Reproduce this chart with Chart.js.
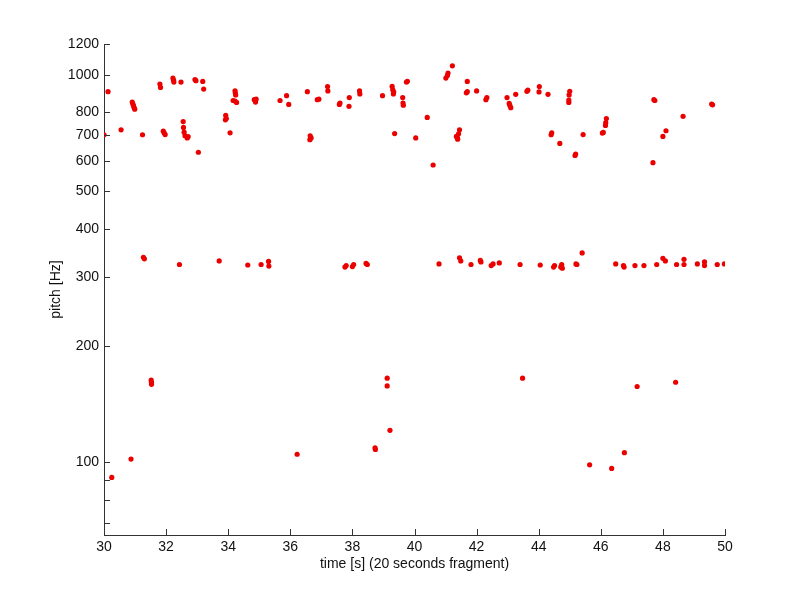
<!DOCTYPE html>
<html>
<head>
<meta charset="utf-8">
<script src="https://cdn.jsdelivr.net/npm/chart.js@4.4.1/dist/chart.umd.min.js"></script>
<style>
  html, body { margin: 0; padding: 0; background: #fff; }
  #wrap { width: 800px; height: 600px; }
</style>
</head>
<body>
<div id="wrap"><canvas id="myChart" width="800" height="600"></canvas></div>
<script>
// time [s] and pitch [Hz]
const times = [
  30.00, 30.13, 30.25, 30.55, 30.87, 30.91, 30.93, 30.95, 30.97, 30.99,
  31.24, 31.27, 31.30, 31.52, 31.53, 31.53, 31.80, 31.82, 31.91, 31.94,
  31.97, 32.22, 32.24, 32.25, 32.43, 32.48, 32.55, 32.56, 32.58, 32.61,
  32.68, 32.71, 32.93, 32.96, 33.04, 33.18, 33.21, 33.71, 33.92, 33.94,
  33.91, 34.06, 34.22, 34.23, 34.24, 34.16, 34.27, 34.22, 34.63, 34.87,
  34.90, 34.88, 34.84, 35.06, 35.30, 35.31, 35.67, 35.88, 35.95, 36.22,
  36.55, 36.64, 36.67, 36.63, 36.87, 36.92, 37.20, 37.21, 37.58, 37.60,
  37.76, 37.80, 37.90, 37.89, 38.00, 38.04, 38.23, 38.24, 38.44, 38.48,
  38.73, 38.74, 38.97, 39.12, 39.12, 39.21, 39.28, 39.30, 39.32, 39.33,
  39.36, 39.62, 39.63, 39.64, 39.74, 39.77, 40.04, 40.41, 40.60, 40.79,
  41.01, 41.06, 41.08, 41.22, 41.35, 41.39, 41.42, 41.45, 41.38, 41.45,
  41.49, 41.70, 41.67, 41.70, 41.82, 42.00, 42.12, 42.14, 42.30, 42.33,
  42.47, 42.53, 42.73, 42.98, 43.05, 43.07, 43.10, 43.26, 43.40, 43.48,
  43.62, 43.65, 44.02, 44.01, 44.05, 44.30, 44.42, 44.40, 44.48, 44.51,
  44.68, 44.71, 44.74, 44.76, 45.00, 44.98, 44.97, 44.97, 45.17, 45.19,
  45.20, 45.23, 45.40, 45.43, 45.64, 46.05, 46.08, 46.18, 46.16, 46.15,
  46.35, 46.48, 46.73, 46.75, 46.76, 47.10, 47.17, 47.39, 47.68, 47.71,
  47.74, 47.80, 48.00, 48.08, 48.00, 48.10, 48.41, 48.44, 48.65, 48.68,
  48.68, 49.11, 49.34, 49.34, 49.57, 49.60, 49.75, 49.98
];
const pitches = [
  700, 904, 91.5, 721, 102, 850, 840, 832, 822, 815,
  700, 338, 335, 163, 161, 159, 946, 927, 715, 707,
  701, 980, 968, 957, 324, 957, 757, 731, 711, 696,
  687, 692, 972, 965, 631, 961, 918, 331, 785, 771,
  765, 708, 909, 897, 887, 858, 848, 855, 323, 860,
  865, 850, 862, 324, 330, 321, 858, 883, 838, 105,
  904, 696, 687, 680, 862, 865, 932, 908, 838, 845,
  319, 322, 873, 829, 320, 324, 908, 892, 326, 324,
  109, 108, 883, 165, 157.5, 121, 933, 914, 892, 903,
  705, 873, 845, 834, 957, 962, 687, 776, 585, 325,
  980, 996, 1010, 1054, 693, 682, 704, 721, 688, 337,
  331, 961, 898, 904, 324, 908, 332, 329, 862, 873,
  322, 325, 327, 873, 843, 834, 822, 890, 324, 165,
  906, 912, 932, 903, 323, 890, 708, 700, 319, 322,
  665, 319, 324, 317, 906, 887, 860, 848, 619, 624,
  325, 324, 347, 701, 98.6, 707, 710, 771, 752, 740,
  96.5, 325, 322, 319, 106, 322, 157, 322, 593, 862,
  858, 324, 336, 331, 693, 717, 161, 324, 781, 334,
  324, 325, 329, 322, 840, 836, 324, 325
];

const yTickValues = [70, 80, 90, 100, 200, 300, 400, 500, 600, 700, 800, 1000, 1200];
const yTickLabels = [100, 200, 300, 400, 500, 600, 700, 800, 1000, 1200];

const FONT = { family: "'Liberation Sans', Arial, sans-serif", size: 14 };

const points = times.map((t, i) => ({ x: t, y: pitches[i] }));

// small inward tick marks, matlab style
const inwardTicks = {
  id: "inwardTicks",
  afterDraw(chart) {
    const c = chart.ctx;
    const xs = chart.scales.x;
    const ys = chart.scales.y;
    c.save();
    c.strokeStyle = "#333";
    c.lineWidth = 1;
    c.beginPath();
    ys.ticks.forEach((tk) => {
      const py = Math.round(ys.getPixelForValue(tk.value)) + 0.5;
      c.moveTo(ys.right, py);
      c.lineTo(ys.right + 6, py);
    });
    xs.ticks.forEach((tk) => {
      const px = Math.round(xs.getPixelForValue(tk.value)) + 0.5;
      c.moveTo(px, xs.top);
      c.lineTo(px, xs.top - 6);
    });
    c.stroke();
    c.restore();
  },
};

const ctx = document.querySelector("canvas#myChart").getContext("2d");
const myChart = new Chart(ctx, {
  type: "scatter",
  data: {
    datasets: [
      {
        data: points,
        backgroundColor: "rgb(235,0,0)",
        borderWidth: 0,
        pointRadius: 2.6,
      },
    ],
  },
  options: {
    responsive: false,
    animation: false,
    layout: { padding: { top: 44, right: 75, bottom: 0, left: 0 } },
    plugins: { legend: { display: false }, tooltip: { enabled: false } },
    scales: {
      x: {
        type: "linear",
        min: 30,
        max: 50,
        grid: { display: false, drawTicks: false },
        border: { display: true, color: "#333", width: 1 },
        ticks: { stepSize: 2, padding: 4, color: "#111", font: FONT },
        title: {
          display: true,
          text: "time [s] (20 seconds fragment)",
          color: "#111",
          font: FONT,
          padding: { top: 0, bottom: 27 },
        },
        afterFit: (scale) => {
          scale.height = 65;
        },
      },
      y: {
        type: "logarithmic",
        min: 65,
        max: 1200,
        grid: { display: false, drawTicks: false },
        border: { display: true, color: "#333", width: 1 },
        afterBuildTicks: (scale) => {
          scale.ticks = yTickValues.map((v) => ({ value: v }));
        },
        ticks: {
          padding: 5,
          color: "#111",
          font: FONT,
          autoSkip: false,
          callback: (v) => (yTickLabels.includes(v) ? String(v) : ""),
        },
        title: {
          display: true,
          text: "pitch [Hz]",
          color: "#111",
          font: FONT,
          padding: { top: 48, bottom: 0 },
        },
        afterFit: (scale) => {
          scale.width = 104;
        },
      },
    },
  },
  plugins: [inwardTicks],
});
</script>
</body>
</html>
